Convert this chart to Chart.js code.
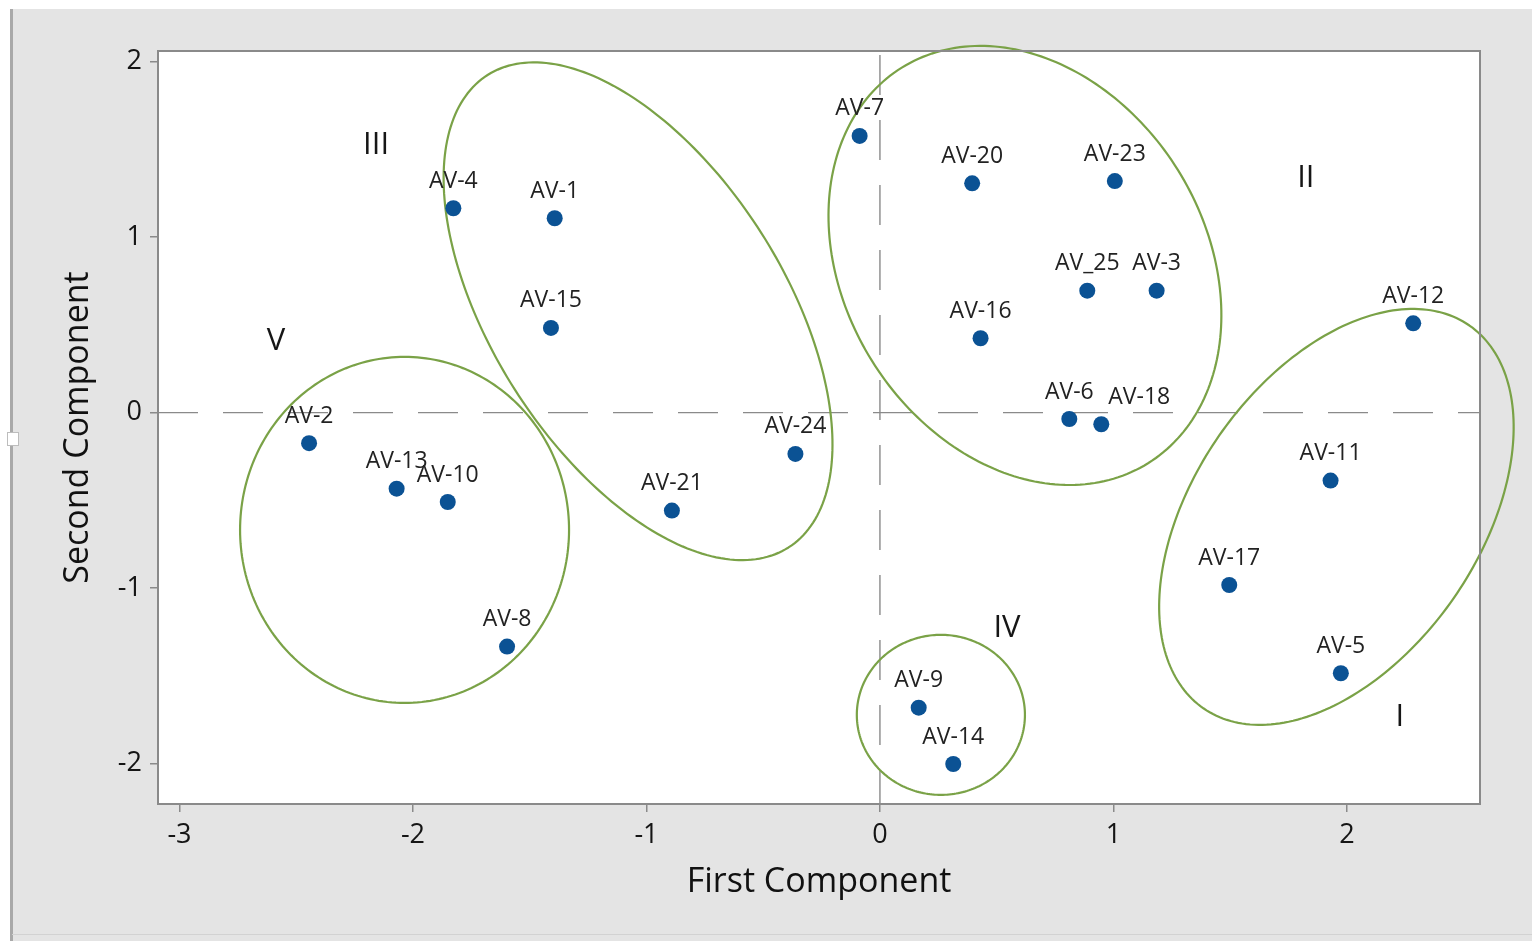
<!DOCTYPE html>
<html>
<head>
<meta charset="utf-8">
<script src="https://cdn.jsdelivr.net/npm/chart.js@4.4.1/dist/chart.umd.min.js"></script>
<style>
  html, body { margin: 0; padding: 0; background: #ffffff; }
  #wrap { width: 1532px; height: 941px; position: relative; }
  canvas { display: block; }
</style>
</head>
<body>
<div id="wrap"><canvas id="pca" width="1532" height="941"></canvas></div>
<script>
// Principal component scores of the samples
const sampleNames = ['AV-1', 'AV-2', 'AV-3', 'AV-4', 'AV-5', 'AV-6', 'AV-7', 'AV-8', 'AV-9', 'AV-10',
  'AV-11', 'AV-12', 'AV-13', 'AV-14', 'AV-15', 'AV-16', 'AV-17', 'AV-18', 'AV-20', 'AV-21',
  'AV-23', 'AV-24', 'AV_25'];
const firstComponent = [-1.393, -2.445, 1.185, -1.827, 1.974, 0.811, -0.087, -1.597, 0.166, -1.851,
  1.930, 2.284, -2.070, 0.314, -1.409, 0.431, 1.496, 0.948, 0.395, -0.891,
  1.006, -0.362, 0.888];
const secondComponent = [1.108, -0.174, 0.695, 1.165, -1.485, -0.036, 1.577, -1.333, -1.681, -0.509,
  -0.387, 0.509, -0.433, -2.002, 0.483, 0.424, -0.982, -0.066, 1.307, -0.558,
  1.320, -0.235, 0.695];

const xTickValues = [-3, -2, -1, 0, 1, 2];
const yTickValues = [-2, -1, 0, 1, 2];

// Cluster groups: label anchor and outline (centre plus two conjugate semi-axes, in score units)
const clusterNames = ['I', 'II', 'III', 'IV', 'V'];
const clusterLabelX = [2.227, 1.824, -2.158, 0.544, -2.587];
const clusterLabelY = [-1.734, 1.337, 1.525, -1.227, 0.409];
const clusterCenterX = [1.955, 0.621, -1.036, 0.261, -2.036];
const clusterCenterY = [-0.594, 0.839, 0.578, -1.722, -0.668];
const clusterAxisU = [[0.5697, 1.0906], [0.5273, -1.1272], [0.6444, -1.346], [0.36, 0], [0.7045, 0]];
const clusterAxisV = [[0.5018, -0.4640], [-0.6556, -0.5429], [-0.5275, -0.4470], [0, 0.456], [0, 0.986]];

const FONT = '"Open Sans", "Noto Sans", "DejaVu Sans", sans-serif';
const PANEL_GREY = '#e4e4e4';
const AXIS_GREY = '#8a8a8a';
const OUTLINE_GREEN = '#7aa247';
const POINT_BLUE = '#0b5294';

// horizontal nudges (px) for labels that would collide with a neighbour
const labelNudge = { 'AV-18': 38 };

const backdrop = {
  id: 'backdrop',
  beforeDraw(chart) {
    const { ctx, chartArea: a, width, height } = chart;
    ctx.save();
    ctx.fillStyle = '#ffffff';
    ctx.fillRect(0, 0, width, height);
    ctx.fillStyle = PANEL_GREY;
    ctx.fillRect(12, 9, width - 12, height - 9);
    ctx.fillStyle = '#a9a9a9';
    ctx.fillRect(10, 9, 3, height - 9);
    ctx.fillStyle = '#d2d2d2';
    ctx.fillRect(12, 934, width - 12, 1);
    // small handle on the left frame
    ctx.fillStyle = '#ffffff';
    ctx.fillRect(7, 432, 12, 14);
    ctx.strokeStyle = '#bdbdbd';
    ctx.lineWidth = 1;
    ctx.strokeRect(7.5, 432.5, 11, 13);
    // plotting area
    ctx.fillStyle = '#ffffff';
    ctx.fillRect(a.left, a.top, a.right - a.left, a.bottom - a.top);
    ctx.restore();
  },
  beforeDatasetsDraw(chart) {
    const { ctx, chartArea: a, scales: { x, y } } = chart;
    const x0 = x.getPixelForValue(0);
    const y0 = y.getPixelForValue(0);
    ctx.save();
    ctx.strokeStyle = AXIS_GREY;
    ctx.lineWidth = 1.4;
    ctx.setLineDash([40, 25]);
    ctx.beginPath();
    ctx.moveTo(a.left, y0);
    ctx.lineTo(a.right, y0);
    ctx.stroke();
    ctx.beginPath();
    ctx.moveTo(x0, a.top + 4);
    ctx.lineTo(x0, a.bottom);
    ctx.stroke();
    ctx.restore();

    // cluster outlines, traced in score units and mapped through the scales
    ctx.save();
    ctx.strokeStyle = OUTLINE_GREEN;
    ctx.lineWidth = 2.2;
    for (let k = 0; k < clusterNames.length; k++) {
      const cx = clusterCenterX[k], cy = clusterCenterY[k];
      const u = clusterAxisU[k], v = clusterAxisV[k];
      ctx.beginPath();
      const steps = 240;
      for (let i = 0; i <= steps; i++) {
        const t = (i / steps) * Math.PI * 2;
        const px = x.getPixelForValue(cx + u[0] * Math.cos(t) + v[0] * Math.sin(t));
        const py = y.getPixelForValue(cy + u[1] * Math.cos(t) + v[1] * Math.sin(t));
        if (i === 0) ctx.moveTo(px, py); else ctx.lineTo(px, py);
      }
      ctx.closePath();
      ctx.stroke();
    }
    ctx.restore();
  },
  afterDraw(chart) {
    const { ctx, chartArea: a, scales: { x, y } } = chart;
    ctx.save();
    // frame of the plotting area
    ctx.strokeStyle = AXIS_GREY;
    ctx.lineWidth = 2;
    ctx.strokeRect(a.left, a.top, a.right - a.left, a.bottom - a.top);

    // sample labels above each point
    const meta = chart.getDatasetMeta(0);
    ctx.fillStyle = '#222222';
    ctx.font = '23px ' + FONT;
    ctx.textAlign = 'center';
    ctx.textBaseline = 'middle';
    meta.data.forEach((pt, i) => {
      const name = sampleNames[i];
      ctx.fillText(name, pt.x + (labelNudge[name] || 0), pt.y - 27);
    });

    // cluster numerals
    ctx.fillStyle = '#161616';
    ctx.font = '31px ' + FONT;
    clusterNames.forEach((n, k) => {
      ctx.fillText(n, x.getPixelForValue(clusterLabelX[k]), y.getPixelForValue(clusterLabelY[k]));
    });
    ctx.restore();
  }
};

const points = sampleNames.map((n, i) => ({ x: firstComponent[i], y: secondComponent[i] }));

new Chart(document.getElementById('pca'), {
  type: 'scatter',
  data: {
    datasets: [{
      label: 'Scores',
      data: points,
      backgroundColor: POINT_BLUE,
      borderWidth: 0,
      pointRadius: 8,
      pointHoverRadius: 8
    }]
  },
  options: {
    responsive: false,
    animation: false,
    devicePixelRatio: 1,
    layout: { padding: { left: 0, top: 51, right: 52, bottom: 0 } },
    plugins: { legend: { display: false }, tooltip: { enabled: false } },
    scales: {
      x: {
        type: 'linear',
        min: -3.092,
        max: 2.57,
        afterBuildTicks: s => { s.ticks = xTickValues.map(v => ({ value: v })); },
        afterFit: s => { s.height = 137; },
        border: { display: false },
        grid: { drawOnChartArea: false, drawTicks: true, tickLength: 8, color: AXIS_GREY, lineWidth: 1.5 },
        ticks: { padding: 7, color: '#151515', font: { family: FONT, size: 27 }, maxRotation: 0 },
        title: {
          display: true,
          text: 'First Component',
          color: '#111111',
          font: { family: FONT, size: 34 },
          padding: { top: 0, bottom: 38 }
        }
      },
      y: {
        type: 'linear',
        min: -2.23,
        max: 2.061,
        afterBuildTicks: s => { s.ticks = yTickValues.map(v => ({ value: v })); },
        afterFit: s => { s.width = 158; },
        border: { display: false },
        grid: { drawOnChartArea: false, drawTicks: true, tickLength: 8, color: AXIS_GREY, lineWidth: 1.5 },
        ticks: { padding: 8, color: '#151515', font: { family: FONT, size: 27 } },
        title: {
          display: true,
          text: 'Second Component',
          color: '#111111',
          font: { family: FONT, size: 34 },
          padding: { top: 58, bottom: 0 }
        }
      }
    }
  },
  plugins: [backdrop]
});
</script>
</body>
</html>
